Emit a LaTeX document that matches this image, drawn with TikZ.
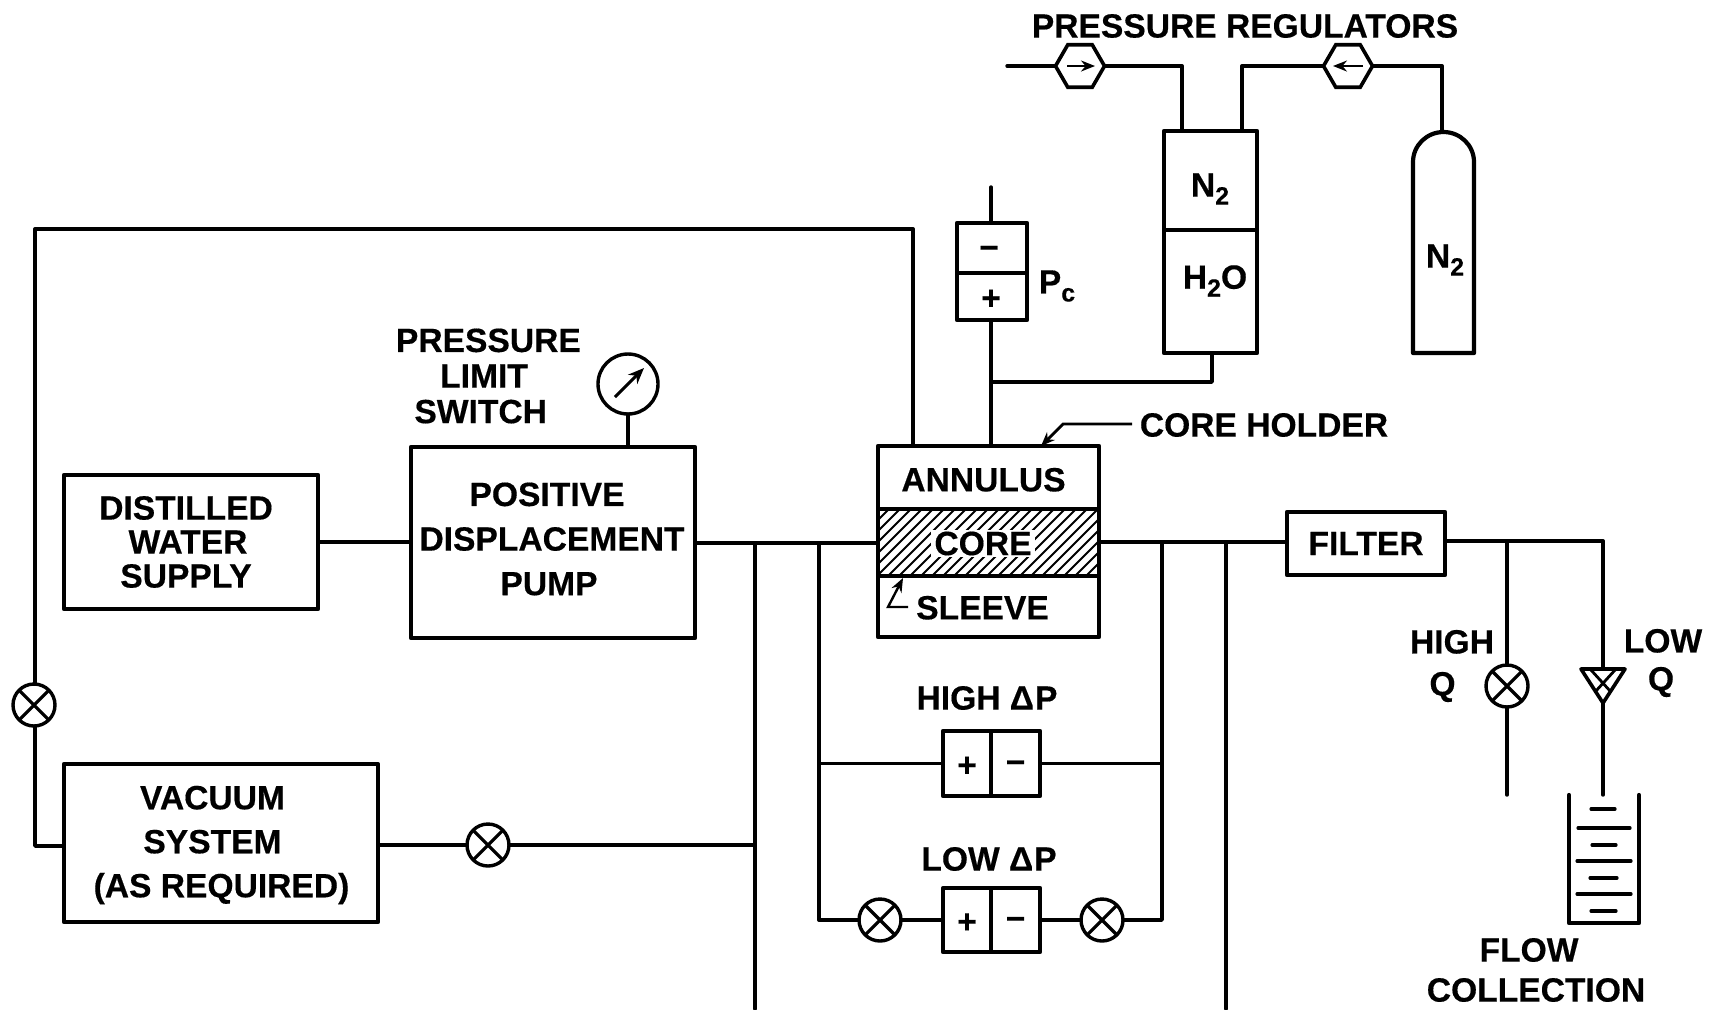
\documentclass[tikz,border=0pt]{standalone}
\usepackage{fontspec}
\setmainfont[BoldFeatures={FakeBold=0.4}]{Liberation Sans}
\usetikzlibrary{arrows.meta,shapes.geometric}
\newcommand{\lowsub}[1]{\raisebox{-4pt}{\fontsize{12.5}{13}\selectfont #1}}
\tikzset{
  px/.style={x=0.5pt,y=-0.5pt},
  conn/.style={line width=1.7pt,line join=round,line cap=round},
  boxn/.style={draw,line width=2.1pt,inner sep=0pt,outer sep=0pt,fill=white,line join=round},
  txt/.style={font=\fontsize{16.8}{17}\selectfont\bfseries,align=center,inner sep=0pt,outer sep=0pt},
  valve/.style={circle,draw,line width=1.7pt,fill=white,minimum size=21pt,inner sep=0pt,outer sep=0pt,
    path picture={\draw[line width=1.6pt] (path picture bounding box.north west) -- (path picture bounding box.south east)
      (path picture bounding box.north east) -- (path picture bounding box.south west);}},
  hexv/.style={regular polygon,regular polygon sides=6,draw,line width=1.8pt,fill=white,minimum size=24.5pt,inner sep=0pt,outer sep=0pt},
  tipa/.style={-{Stealth[length=7pt,width=5.5pt]},line width=1pt},
  tipb/.style={-{Stealth[length=8pt,width=6.5pt]},line width=1.5pt},
  hatchl/.style={line width=1pt},
  beak/.style={line width=1.8pt,line cap=round,line join=round},
}
\begin{document}
\begin{tikzpicture}[px]
\useasboundingbox (0,0) rectangle (1723,1009);
\fill[white] (0,0) rectangle (1723,1009);

% free coordinates
\coordinate (j1) at (755,543);
\coordinate (j2) at (819,543);
\coordinate (j3) at (1162,542);
\coordinate (j4) at (1226,542);
\coordinate (b1) at (755,1009);
\coordinate (b4) at (1226,1009);
\coordinate (loopA) at (35,846);
\coordinate (loopB) at (35,229);
\coordinate (loopC) at (913,229);
\coordinate (lowL) at (819,920);
\coordinate (lowR) at (1162,920);
\coordinate (pcTop) at (991,187);
\coordinate (pcJ) at (991,382);
\coordinate (tankJ) at (1212,382);
\coordinate (regIn) at (1007,66);
\coordinate (reg1C) at (1182,66);
\coordinate (reg2C) at (1242,66);
\coordinate (reg2R) at (1442,66);
\coordinate (bottleTop) at (1442,132);
\coordinate (fj1) at (1507,541);
\coordinate (fj2) at (1603,541);
\coordinate (highEnd) at (1507,795);
\coordinate (triTop) at (1603,669);
\coordinate (triApex) at (1603,703);
\coordinate (lowEnd) at (1603,795);
\coordinate (chL) at (1132,424);
\coordinate (chM) at (1063,424);
\coordinate (chTip) at (1041,446);
\coordinate (slA) at (908,607);
\coordinate (slB) at (888,607);
\coordinate (slTip) at (903,578);

% boxes
\node[boxn,minimum width=127pt,minimum height=67pt] (distilled) at (191,542) {};
\node[boxn,minimum width=142pt,minimum height=95.5pt] (pump) at (553,542.5) {};
\node[boxn,minimum width=157pt,minimum height=79pt] (vacuum) at (221,843) {};
\node[boxn,minimum width=79pt,minimum height=31.5pt,txt] (filter) at (1366,543.5) {FILTER};
\node[boxn,minimum width=110.5pt,minimum height=31.5pt,txt,text height=14pt] (annulus) at (988.5,477.5) {ANNULUS\hspace*{5pt}};
\node[boxn,minimum width=110.5pt,minimum height=33.5pt] (core) at (988.5,542.5) {};
\node[boxn,minimum width=110.5pt,minimum height=30.5pt,txt,text height=13pt] (sleeve) at (988.5,606.5) {SLEEVE\hspace*{6pt}};
\begin{scope}
  \clip (878,509) rectangle (1099,576);
  \foreach \i in {800,811,...,1100} {\draw[hatchl] (\i,576) -- (\i+67,509);}
\end{scope}
\node[boxn,minimum width=110.5pt,minimum height=33.5pt,fill=none] (coreEdge) at (988.5,542.5) {};
\node[txt,fill=white,inner xsep=1.5pt,inner ysep=1pt] (coreTxt) at (983,543.5) {CORE};

\node[boxn,minimum width=24pt,minimum height=32.5pt,txt,text height=13pt] (plusH) at (967,763.5) {+};
\node[boxn,minimum width=24.5pt,minimum height=32.5pt,txt,text height=10pt] (minusH) at (1015.5,763.5) {\textminus};
\node[boxn,minimum width=24pt,minimum height=32pt,txt,text height=13pt] (plusL) at (967,920) {+};
\node[boxn,minimum width=24.5pt,minimum height=32pt,txt,text height=10pt] (minusL) at (1015.5,920) {\textminus};
\node[boxn,minimum width=35pt,minimum height=25pt,txt,text height=11pt] (pcMinus) at (992,248) {\textminus\hspace*{3pt}};
\node[boxn,minimum width=35pt,minimum height=23.5pt,txt,text height=13pt] (pcPlus) at (992,296.5) {+\hspace*{1pt}};
\node[boxn,minimum width=46.5pt,minimum height=49.5pt] (tankN) at (1210.5,180.5) {};
\node[boxn,minimum width=46.5pt,minimum height=61.5pt] (tankW) at (1210.5,291.5) {};

% valves, gauge, regulators
\node[valve] (vLeft) at (34,705) {};
\node[valve] (vVac) at (488,845) {};
\node[valve] (vLowA) at (880,920) {};
\node[valve] (vLowB) at (1102,920) {};
\node[valve] (vHighQ) at (1507,686) {};
\node[circle,draw,line width=1.7pt,minimum size=30pt,inner sep=0pt,outer sep=0pt] (gauge) at (628,384) {};
\node[hexv] (reg1) at (1080,66) {};
\node[hexv] (reg2) at (1348,66) {};

% connectors
\draw[conn] (distilled.east) -- (distilled.east -| pump.west);
\draw[conn] (pump.east |- j1) -- (j1) -- (j2) -- (annulus.west |- j2);
\draw[conn] (core.east |- j3) -- (j3) -- (j4) -- (filter.west |- j4);
\draw[conn] (j1) -- (b1);
\draw[conn] (j4) -- (b4);
\draw[conn] (j2) -- (lowL) -- (vLowA.west);
\draw[conn] (j3) -- (lowR) -- (vLowB.east);
\draw[conn] (vLowA.east) -- (plusL.west);
\draw[conn] (minusL.east) -- (vLowB.west);
\draw[conn] (plusH.west -| j2) -- (plusH.west);
\draw[conn] (minusH.east) -- (minusH.east -| j3);
\draw[conn] (vacuum.west |- loopA) -- (loopA) -- (vLeft.south -| loopA);
\draw[conn] (vLeft.north -| loopA) -- (loopB) -- (loopC) -- (loopC |- annulus.north);
\draw[conn] (vacuum.east |- vVac) -- (vVac.west);
\draw[conn] (vVac.east) -- (vVac -| j1);
\draw[conn] (gauge.south) -- (gauge.south |- pump.north);
\draw[conn] (pcTop) -- (pcTop |- pcMinus.north);
\draw[conn] (pcPlus.south -| pcTop) -- (pcJ) -- (pcJ |- annulus.north);
\draw[conn] (pcJ) -- (tankJ) -- (tankJ |- tankW.south);
\draw[conn] (regIn) -- (reg1.west);
\draw[conn] (reg1.east) -- (reg1C) -- (reg1C |- tankN.north);
\draw[conn] (reg2C |- tankN.north) -- (reg2C) -- (reg2.west);
\draw[conn] (reg2.east) -- (reg2R) -- (bottleTop);
\draw[conn] (filter.east |- fj1) -- (fj1) -- (fj2) -- (triTop);
\draw[conn] (fj1) -- (vHighQ.north);
\draw[conn] (vHighQ.south) -- (highEnd);
\draw[conn] (triApex) -- (lowEnd);

% inner arrows
\draw[tipa] ([xshift=-6.5pt]reg1.center) -- ([xshift=7.5pt]reg1.center);
\draw[tipa] ([xshift=7.5pt]reg2.center) -- ([xshift=-7.5pt]reg2.center);
\draw[tipb] ([shift={(-13,13)}]gauge.center) -- ([shift={(16,-16)}]gauge.center);
\draw[tipa,line width=1.4pt] (chL) -- (chM) -- (chTip);
\draw[tipa,line width=1.2pt] (slA) -- (slB) -- (slTip);

% gas bottle
\draw[beak,line width=2.1pt] (1413,353) -- (1413,162) arc[start angle=180,end angle=0,x radius=30.5,y radius=-30] -- (1474,353) -- cycle;

% flow indicator
\draw[beak] (1581,669) -- (1625,669) -- (triApex) -- cycle;
\draw[line width=1.4pt] (1591,670) -- (1611,692) (1615,670) -- (1595,692);

% beaker
\draw[beak,line width=2.1pt] (1569,795) -- (1569,923) -- (1639,923) -- (1639,795);
\foreach \yy/\xa/\xb in {809/1591/1615,828/1578/1630,845/1592/1616,861/1577/1631,878/1590/1617,894/1577/1631,911/1591/1616}
  {\draw[line width=1.6pt,line cap=round] (\xa,\yy) -- (\xb,\yy);}

% labels
\node[txt] (tReg) at (1245,26) {PRESSURE REGULATORS};
\node[txt] (tDist) at (186,542) {DISTILLED\\WATER\kern-2pt\\SUPPLY};
\node[txt,font=\fontsize{16.8}{22.3}\selectfont\bfseries] (tPump) at (552,539) {POSITIVE\kern5pt\\DISPLACEMENT\\PUMP\kern3pt};
\node[txt,font=\fontsize{16.8}{17.8}\selectfont\bfseries] (tLimit) at (484,376) {\kern4.4pt PRESSURE\\LIMIT\\SWITCH\kern3.3pt};
\node[txt,font=\fontsize{16.8}{22}\selectfont\bfseries] (tVac) at (221.5,845) {VACUUM\kern9pt\\SYSTEM\kern9pt\\(AS REQUIRED)};
\node[txt] (tHolder) at (1264,425) {CORE HOLDER};
\node[txt] (tHighP) at (987,698) {HIGH Δ\kern0.5pt P};
\node[txt] (tLowP) at (989,859) {LOW Δ\kern0.5pt P};
\node[txt] (tN1) at (1210,189) {N\lowsub{2}};
\node[txt] (tWater) at (1215,281) {H\lowsub{2}O};
\node[txt] (tN2) at (1445,260) {N\lowsub{2}};
\node[txt] (tPc) at (1057,286) {P\lowsub{c}};
\node[txt,font=\fontsize{16.8}{21}\selectfont\bfseries] (tHighQ) at (1452,666) {HIGH\\Q\kern9.5pt};
\node[txt,font=\fontsize{16.8}{19}\selectfont\bfseries] (tLowQ) at (1663,663) {LOW\\Q\kern2pt};
\node[txt,font=\fontsize{16.8}{20}\selectfont\bfseries] (tFlow) at (1536,970) {FLOW\kern7pt\\COLLECTION};
\end{tikzpicture}
\end{document}
